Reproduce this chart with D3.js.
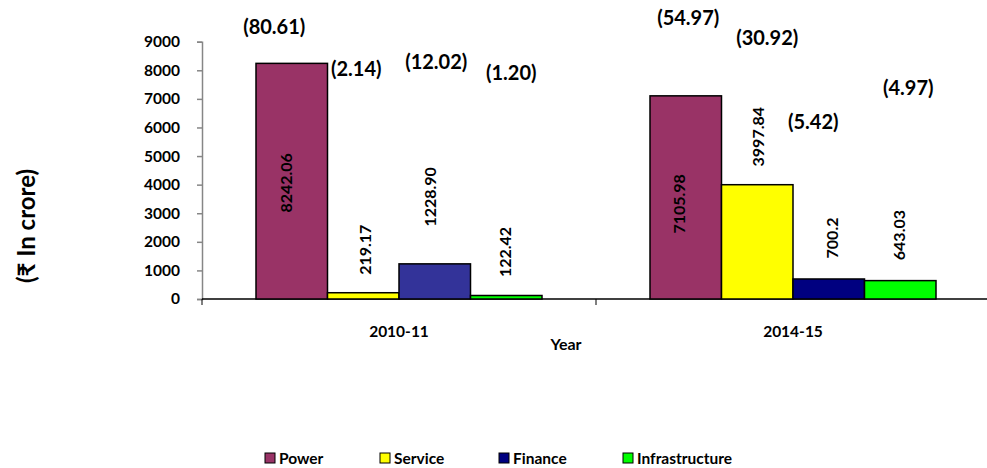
<!DOCTYPE html>
<html>
<head>
<meta charset="utf-8">
<script src="https://cdn.jsdelivr.net/npm/d3@7"></script>
<style>
  body { margin: 0; background: #fff; }
  svg text { font-family: Lato, "Open Sans", "DejaVu Sans", sans-serif; font-weight: bold; fill: #000; }
</style>
</head>
<body>
<svg id="chart" width="987" height="468"></svg>
<script>
// data
var years = ["2010-11", "2014-15"];
var sectors = ["Power", "Service", "Finance", "Infrastructure"];
var amounts = {
  "2010-11": [8242.06, 219.17, 1228.90, 122.42],
  "2014-15": [7105.98, 3997.84, 700.2, 643.03]
};
var amountText = {
  "2010-11": ["8242.06", "219.17", "1228.90", "122.42"],
  "2014-15": ["7105.98", "3997.84", "700.2", "643.03"]
};
var shares = {
  "2010-11": ["(80.61)", "(2.14)", "(12.02)", "(1.20)"],
  "2014-15": ["(54.97)", "(30.92)", "(5.42)", "(4.97)"]
};
var yTicks = [0, 1000, 2000, 3000, 4000, 5000, 6000, 7000, 8000, 9000];

// colours (finance bar differs a bit between the years)
var barColors = {
  "2010-11": ["#993366", "#ffff00", "#333399", "#00ff00"],
  "2014-15": ["#993366", "#ffff00", "#000080", "#00ff00"]
};
var legendColors = ["#993366", "#ffff00", "#000080", "#00ff00"];

// label layout, hand placed like the original
// value labels: dx from bar centre, gap of label centre above bar top
var valDx = {
  "2010-11": [-6, 2, -5, -1],
  "2014-15": [-7, 1, 3, -1]
};
var valGap = {
  "2010-11": [-119.5, 43, 67, 43.5],
  "2014-15": [-108, 48, 41, 45.5]
};
// share labels: dx from bar centre, y in pixels
var shareDx = {
  "2010-11": [-17.5, -7, 1.5, 5],
  "2014-15": [2.5, 10, -15.5, 8]
};
var shareY = {
  "2010-11": [27, 69, 62, 73],
  "2014-15": [18, 38, 122, 88]
};

var svg = d3.select("#chart");
var plotL = 202, plotR = 990, plotT = 41.7, plotB = 299;

var x0 = d3.scaleBand().domain(years).range([plotL, plotR]);
var x1 = d3.scaleBand().domain(sectors).range([54, 340]);
var y = d3.scaleLinear().domain([0, 9000]).range([plotB, plotT]);

// y axis
var yAxis = svg.append("g")
    .attr("transform", "translate(" + plotL + ",0)")
    .call(d3.axisLeft(y).tickValues(yTicks).tickSize(5).tickPadding(17).tickFormat(d3.format("d")));
yAxis.select(".domain").attr("stroke", "#868686").attr("stroke-width", 1.5);
yAxis.selectAll(".tick line").attr("stroke", "#868686").attr("stroke-width", 1.5);
yAxis.selectAll("text").style("font-size", "15.5px");

// x axis
var xAxis = svg.append("g")
    .attr("transform", "translate(0," + plotB + ")")
    .call(d3.axisBottom(x0).tickSize(0).tickPadding(0));
xAxis.select(".domain").attr("stroke", "#000").attr("stroke-width", 1.5).attr("d", "M" + plotL + ",0H" + plotR);
xAxis.selectAll("text").attr("y", 27).style("font-size", "15.5px");
xAxis.selectAll(".tick line").remove();
var bounds = [plotL].concat(years.map(function(d) { return x0(d) + x0.bandwidth(); }));
xAxis.selectAll(".sep").data(bounds).enter().append("line")
    .attr("x1", function(d) { return d; }).attr("x2", function(d) { return d; })
    .attr("y1", 0).attr("y2", 6)
    .attr("stroke", "#000").attr("stroke-width", 1);

svg.append("text")
    .attr("x", 566).attr("y", 350)
    .attr("text-anchor", "middle")
    .style("font-size", "16px")
    .text("Year");

svg.append("text")
    .attr("transform", "translate(35,226) rotate(-90)")
    .attr("text-anchor", "middle")
    .style("font-size", "24px")
    .text("(\u20b9 In crore)");

// bars
var groups = svg.selectAll(".year").data(years).enter().append("g")
    .attr("class", "year")
    .attr("transform", function(d) { return "translate(" + x0(d) + ",0)"; });

groups.each(function(yr) {
  var g = d3.select(this);
  var rows = sectors.map(function(s, i) { return { s: s, i: i, v: amounts[yr][i] }; });

  g.selectAll("rect").data(rows).enter().append("rect")
      .attr("x", function(d) { return x1(d.s); })
      .attr("y", function(d) { return y(d.v); })
      .attr("width", x1.bandwidth())
      .attr("height", function(d) { return plotB - y(d.v); })
      .attr("fill", function(d) { return barColors[yr][d.i]; })
      .attr("stroke", "#000")
      .attr("stroke-width", 1.5);

  g.selectAll(".val").data(rows).enter().append("text")
      .attr("class", "val")
      .attr("transform", function(d) {
        var cx = x1(d.s) + x1.bandwidth() / 2 + valDx[yr][d.i] + 6;
        var cy = y(d.v) - valGap[yr][d.i];
        return "translate(" + cx + "," + cy + ") rotate(-90)";
      })
      .attr("text-anchor", "middle")
      .style("font-size", "16px")
      .text(function(d) { return amountText[yr][d.i]; });

  g.selectAll(".share").data(rows).enter().append("text")
      .attr("class", "share")
      .attr("x", function(d) { return x1(d.s) + x1.bandwidth() / 2 + shareDx[yr][d.i]; })
      .attr("y", function(d) { return shareY[yr][d.i] + 7; })
      .attr("text-anchor", "middle")
      .style("font-size", "20px")
      .text(function(d) { return shares[yr][d.i]; });
});

// legend
var legendPos = [265, 380, 499, 623];
var leg = svg.selectAll(".leg").data(sectors).enter().append("g")
    .attr("class", "leg")
    .attr("transform", function(d, i) { return "translate(" + legendPos[i] + ",453)"; });
leg.append("rect")
    .attr("width", 10).attr("height", 10)
    .attr("fill", function(d, i) { return legendColors[i]; })
    .attr("stroke", "#000").attr("stroke-width", 1);
leg.append("text")
    .attr("x", 14).attr("y", 10.5)
    .style("font-size", "15.5px")
    .text(function(d) { return d; });
</script>
</body>
</html>
